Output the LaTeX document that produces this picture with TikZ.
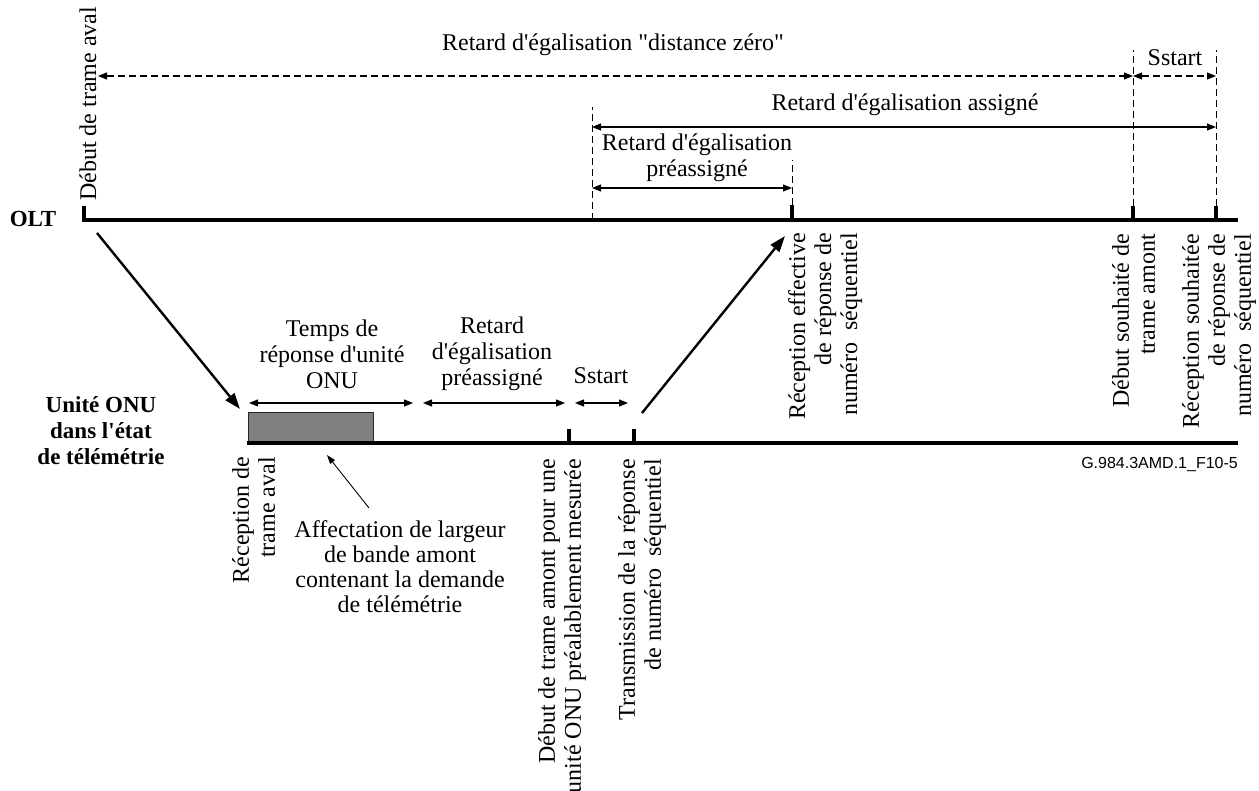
\documentclass[tikz,border=0pt]{standalone}
\usepackage{fontspec}
\setmainfont{Liberation Serif}[Ligatures=TeXOff]
\newfontfamily\capfont{Liberation Sans}
\usetikzlibrary{arrows.meta,calc}
\begin{document}
\begin{tikzpicture}[x=1pt,y=-1pt,
  txt/.style={font=\fontsize{24}{26}\selectfont, inner sep=0pt, align=center},
  vtxt/.style={font=\fontsize{24}{26}\selectfont, inner sep=0pt, align=right, rotate=90, anchor=north east},
  blbl/.style={font=\bfseries\fontsize{23}{26}\selectfont, inner sep=0pt, align=center},
  axisline/.style={line width=4pt},
  tickmark/.style={line width=4.5pt},
  dline/.style={line width=0.9pt, dash pattern=on 7pt off 4pt},
  dimarr/.style={line width=1.1pt, {Triangle[length=9pt,width=7pt]}-{Triangle[length=9pt,width=7pt]}},
  ddimarr/.style={dimarr, dash pattern=on 7pt off 4pt},
  bigarr/.style={line width=2.4pt, -{Triangle[length=16pt,width=11pt]}},
  thinarr/.style={line width=0.9pt, -{Triangle[length=9pt,width=6pt]}},
]
\useasboundingbox (0,0) rectangle (1259,791);

% ---- coordinates
\coordinate (OL) at (84,206);
\coordinate (O0) at (84,220);
\coordinate (O1) at (1238,220);
\coordinate (T1) at (792,220);
\coordinate (T2) at (1133,220);
\coordinate (T3) at (1216,220);
\coordinate (P)  at (592,220);
\coordinate (N0) at (247,443);
\coordinate (N1) at (1238,443);
\coordinate (U1) at (569,443);
\coordinate (U2) at (634,443);

% ---- OLT axis
\draw[axisline] (OL) -- (O0) -- (O1);
\draw[tickmark] (T1) -- ++(0,-15);
\draw[tickmark] (T2) -- ++(0,-14);
\draw[tickmark] (T3) -- ++(0,-14);

% ---- dashed verticals
\coordinate (Pt) at (592,107);
\coordinate (T1t) at (792,160);
\coordinate (T2t) at (1133,50);
\coordinate (T3t) at (1216,50);
\draw[dline] (P) -- (Pt);
\draw[dline] ($(T1)+(0,-15)$) -- (T1t);
\draw[dline] ($(T2)+(0,-14)$) -- (T2t);
\draw[dline] ($(T3)+(0,-14)$) -- (T3t);

% ---- dimension arrows (OLT)
\coordinate (d0a) at (98,76);
\coordinate (d0b) at (1133,76);
\coordinate (d0c) at (1216,76);
\draw[ddimarr] (d0a) -- (d0b);
\draw[ddimarr] (d0b) -- (d0c);
\coordinate (d1a) at (592,127);
\coordinate (d1b) at (1216,127);
\draw[dimarr] (d1a) -- (d1b);
\coordinate (d2a) at (592,188);
\coordinate (d2b) at (792,188);
\draw[dimarr] (d2a) -- (d2b);

% ---- ONU axis
\node[draw=black!85, line width=0.8pt, fill={rgb,255:red,128;green,128;blue,128},
      minimum width=125pt, minimum height=29pt, inner sep=0pt, anchor=south west] (box) at (248,442) {};
\draw[axisline] (N0) -- (N1);
\draw[tickmark] (U1) -- ++(0,-14);
\draw[tickmark] (U2) -- ++(0,-14);

% ---- dimension arrows (ONU)
\coordinate (e1a) at (249,403);
\coordinate (e1b) at (413,403);
\coordinate (e2a) at (423,403);
\coordinate (e2b) at (565,403);
\coordinate (e3a) at (575,403);
\coordinate (e3b) at (628,403);
\draw[dimarr] (e1a) -- (e1b);
\draw[dimarr] (e2a) -- (e2b);
\draw[dimarr] (e3a) -- (e3b);

% ---- big diagonal arrows
\coordinate (a1s) at (97,233);
\coordinate (a1e) at (240,409);
\coordinate (a2s) at (642,413);
\coordinate (a2e) at (785,236);
\draw[bigarr] (a1s) -- (a1e);
\draw[bigarr] (a2s) -- (a2e);

% ---- labels
\node[blbl] (olt) at (33,219) {OLT};
\node[blbl] (onu) at (101,431) {Unité ONU\\dans l'état\\de télémétrie};

\node[txt] (rdz) at (613,45) {Retard d'égalisation "distance zéro"};
\node[txt] (ss1) at (1175,58) {Sstart};
\node[txt] (ras) at (905,105) {Retard d'égalisation assigné};
\node[txt] (rpa) at (697,158) {Retard d'égalisation\\préassigné};

\node[txt] (trn) at (332,354) {Temps de\\réponse d'unité\\ONU};
\node[txt] (rpo) at (492,354) {Retard\\d'égalisation\\préassigné};
\node[txt] (ss2) at (601,376) {Sstart};

\node[font=\fontsize{24}{26}\selectfont, inner sep=0pt, rotate=90, anchor=west] (dta) at (88,201) {Début de trame aval};

\node[vtxt] (ree) at (788,233) {Réception effective\\de réponse de\\numéro~~séquentiel};
\node[vtxt] (dst) at (1112,234) {Début souhaité de\\trame amont};
\node[vtxt] (rsn) at (1182,234) {Réception souhaitée\\de réponse de\\numéro~~séquentiel};

\node[vtxt] (rta) at (232,457) {Réception de\\trame aval};
\node[vtxt] (dta2) at (538,459) {Début de trame amont pour une\\unité ONU préalablement mesurée};
\node[vtxt] (trs) at (618,459) {Transmission de la réponse\\de numéro~~séquentiel};

\node[txt, font=\fontsize{24}{25}\selectfont] (aff) at (400,567) {Affectation de largeur\\de bande amont\\contenant la demande\\de télémétrie};
\coordinate (affp) at (369,508);
\coordinate (affq) at (327,455);
\draw[thinarr] (affp) -- (affq);

\node[font=\capfont\fontsize{16}{18}\selectfont, inner sep=0pt, anchor=east] (cap) at (1238,465) {G.984.3AMD.1\_F10-5};
\end{tikzpicture}
\end{document}
